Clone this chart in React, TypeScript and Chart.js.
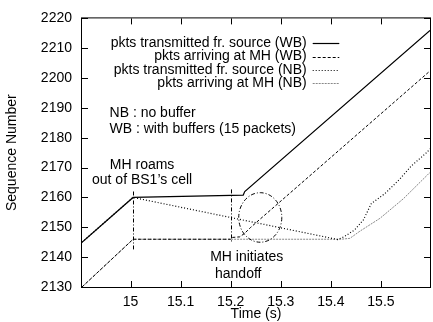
import React, { useEffect, useRef } from 'react';
import { Chart, registerables } from 'chart.js';

Chart.register(...registerables);

// ---- axis ranges & ticks ----
const xMin = 14.903;
const xMax = 15.598;
const yMin = 2130;
const yMax = 2220;
const xTickValues = [15, 15.1, 15.2, 15.3, 15.4, 15.5];
const yTickValues = [2130, 2140, 2150, 2160, 2170, 2180, 2190, 2200, 2210, 2220];

// ---- series ----
const seriesLabels = [
  'pkts transmitted fr. source (WB)',
  'pkts arriving at MH (WB)',
  'pkts transmitted fr. source (NB)',
  'pkts arriving at MH (NB)',
];

const wbSentT = [14.903, 15.005, 15.225, 15.228, 15.598];
const wbSentV = [2145, 2160, 2160.8, 2162, 2216];

const wbRecvT = [14.903, 15.005, 15.2, 15.203, 15.218, 15.228, 15.24, 15.598];
const wbRecvV = [2130, 2146, 2146, 2146.6, 2146.8, 2148, 2150, 2202.4];

const nbSentT = [14.903, 15.005, 15.414, 15.428, 15.448, 15.465, 15.481, 15.508, 15.538, 15.561, 15.591, 15.598];
const nbSentV = [2145, 2160, 2145.9, 2147, 2149.2, 2152.5, 2158, 2161.3, 2166.2, 2170.6, 2175, 2176.3];

const nbRecvT = [14.903, 15.005, 15.42, 15.438, 15.458, 15.498, 15.545, 15.598];
const nbRecvV = [2130, 2146, 2146, 2146.3, 2148.7, 2153, 2159.6, 2168.4];

// ---- annotations (data coordinates) ----
const markerT = [15.005, 15.2];
const markerTop = [2162, 2162.7];
const markerBottom = [2142.6, 2144.8];

const ellipseT = 15.259;
const ellipseV = 2153.3;
const ellipseRT = 0.043;
const ellipseRV = 8.3;

const noteTexts = [
  'NB : no buffer',
  'WB : with buffers (15 packets)',
  'MH roams',
  'out of BS1\u2019s cell',
  'MH initiates',
  'handoff',
];
const noteT = [14.958, 14.958, 15.023, 15.023, 15.232, 15.215];
const noteV = [2188.2, 2182.9, 2170.8, 2165.9, 2139.9, 2134.4];
const noteAlign: CanvasTextAlign[] = ['left', 'left', 'center', 'center', 'center', 'center'];

const FONT = '"Liberation Sans", Arial, Helvetica, sans-serif';

const zip = (t: number[], v: number[]) => t.map((x, i) => ({ x, y: v[i] }));

const decorPlugin = {
  id: 'decor',
  afterDatasetsDraw(chart: any) {
    const { ctx, chartArea } = chart;
    const xs = chart.scales.x;
    const ys = chart.scales.y;
    const { left, right, top, bottom } = chartArea;
    ctx.save();

    // marker lines (dash-dot)
    ctx.strokeStyle = '#000';
    ctx.lineWidth = 1;
    ctx.setLineDash([4, 2, 1, 2]);
    markerT.forEach((t, i) => {
      const px = Math.round(xs.getPixelForValue(t)) + 0.5;
      ctx.beginPath();
      ctx.moveTo(px, ys.getPixelForValue(markerTop[i]));
      ctx.lineTo(px, ys.getPixelForValue(markerBottom[i]));
      ctx.stroke();
    });

    // ellipse
    const cx = xs.getPixelForValue(ellipseT);
    const cy = ys.getPixelForValue(ellipseV);
    const rx = Math.abs(xs.getPixelForValue(ellipseT + ellipseRT) - cx);
    const ry = Math.abs(ys.getPixelForValue(ellipseV + ellipseRV) - cy);
    ctx.beginPath();
    ctx.ellipse(cx, cy, rx, ry, 0, 0, Math.PI * 2);
    ctx.stroke();
    ctx.setLineDash([]);

    // frame
    ctx.strokeStyle = '#000';
    ctx.lineWidth = 1;
    ctx.strokeRect(left - 0.5, top - 0.5, right - left + 1, bottom - top + 1);

    // inward ticks
    const tl = 6;
    ctx.beginPath();
    xTickValues.forEach((v) => {
      const px = Math.round(xs.getPixelForValue(v)) + 0.5;
      ctx.moveTo(px, bottom);
      ctx.lineTo(px, bottom - tl);
      ctx.moveTo(px, top);
      ctx.lineTo(px, top + tl);
    });
    yTickValues.forEach((v) => {
      const py = Math.round(ys.getPixelForValue(v)) + 0.5;
      ctx.moveTo(left, py);
      ctx.lineTo(left + tl, py);
      ctx.moveTo(right, py);
      ctx.lineTo(right - tl, py);
    });
    ctx.stroke();

    // notes
    ctx.fillStyle = '#000';
    ctx.font = `14px ${FONT}`;
    ctx.textBaseline = 'middle';
    noteTexts.forEach((txt, i) => {
      ctx.textAlign = noteAlign[i];
      ctx.fillText(txt, xs.getPixelForValue(noteT[i]), ys.getPixelForValue(noteV[i]));
    });

    // legend (gnuplot style: right aligned text, sample on the right)
    const textRight = 306.7;
    const s0 = 312.7;
    const s1 = 339.3;
    const row0 = 43.3;
    const step = 13.3;
    ctx.textAlign = 'right';
    chart.data.datasets.forEach((ds: any, i: number) => {
      const y = row0 + i * step;
      ctx.fillStyle = '#000';
      ctx.fillText(ds.label, textRight, y);
      ctx.strokeStyle = ds.borderColor;
      ctx.lineWidth = ds.borderWidth;
      ctx.setLineDash(ds.borderDash || []);
      ctx.beginPath();
      ctx.moveTo(s0, Math.round(y) + 0.5);
      ctx.lineTo(s1, Math.round(y) + 0.5);
      ctx.stroke();
    });
    ctx.restore();
  },
};

export default function App() {
  const ref = useRef<HTMLCanvasElement | null>(null);
  useEffect(() => {
    document.body.style.margin = '0';
    const canvas = ref.current;
    if (!canvas) return;
    const tickFont = { family: FONT, size: 14 };
    const chart = new Chart(canvas, {
      type: 'line',
      data: {
        datasets: [
          { label: seriesLabels[0], data: zip(wbSentT, wbSentV), borderColor: '#000', borderWidth: 1.2, borderDash: [] },
          { label: seriesLabels[1], data: zip(wbRecvT, wbRecvV), borderColor: '#000', borderWidth: 1, borderDash: [3, 2] },
          { label: seriesLabels[2], data: zip(nbSentT, nbSentV), borderColor: '#000', borderWidth: 1.2, borderDash: [1, 2] },
          { label: seriesLabels[3], data: zip(nbRecvT, nbRecvV), borderColor: '#888', borderWidth: 1, borderDash: [2, 1] },
        ] as any,
      },
      options: {
        animation: false,
        responsive: false,
        maintainAspectRatio: false,
        layout: { padding: { top: 13, right: 3, left: 0, bottom: 0 } },
        elements: { point: { radius: 0 }, line: { tension: 0 } },
        plugins: { legend: { display: false }, tooltip: { enabled: false } },
        scales: {
          x: {
            type: 'linear',
            min: xMin,
            max: xMax,
            grid: { display: false, drawTicks: false },
            border: { display: false },
            afterBuildTicks: (s: any) => {
              s.ticks = xTickValues.map((v) => ({ value: v }));
            },
            afterFit: (s: any) => {
              s.height = 35;
            },
            ticks: {
              font: tickFont,
              color: '#000',
              padding: 7,
              maxRotation: 0,
              autoSkip: false,
              callback: (v: any) => String(v),
            },
            title: {
              display: true,
              text: 'Time (s)',
              color: '#000',
              font: { family: FONT, size: 14, lineHeight: 1.1 },
              padding: 0,
            },
          },
          y: {
            type: 'linear',
            min: yMin,
            max: yMax,
            grid: { display: false, drawTicks: false },
            border: { display: false },
            afterBuildTicks: (s: any) => {
              s.ticks = yTickValues.map((v) => ({ value: v }));
            },
            afterFit: (s: any) => {
              s.width = 82;
            },
            ticks: {
              font: tickFont,
              color: '#000',
              padding: 10,
              autoSkip: false,
              callback: (v: any) => String(v),
            },
            title: {
              display: true,
              text: 'Sequence Number',
              color: '#000',
              font: { family: FONT, size: 14 },
              padding: { top: 4, bottom: 0 },
            },
          },
        },
      } as any,
      plugins: [decorPlugin],
    });
    return () => chart.destroy();
  }, []);
  return (
    <canvas ref={ref} width={433} height={322} style={{ display: 'block', width: 433, height: 322 }} />
  );
}
